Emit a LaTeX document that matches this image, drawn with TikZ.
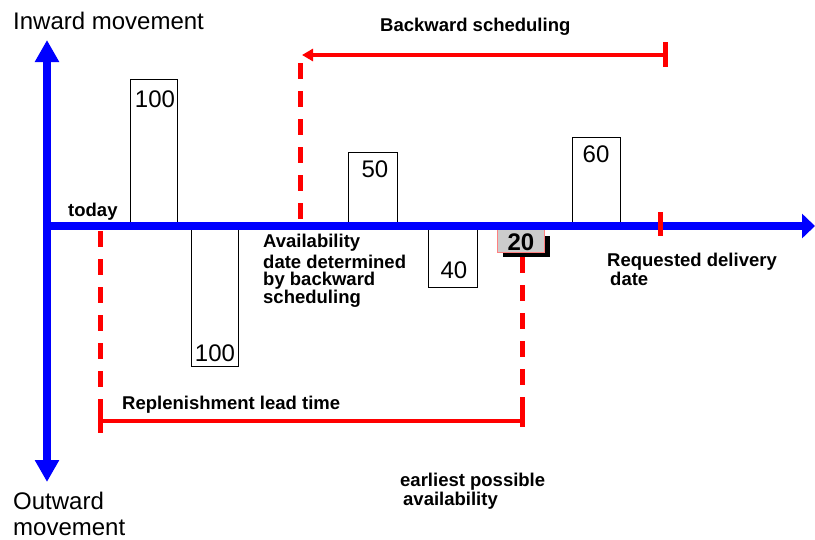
\documentclass[tikz,border=0pt]{standalone}
\usepackage{fontspec}
\setmainfont{Liberation Sans}
\usetikzlibrary{arrows.meta}
\begin{document}
\begin{tikzpicture}[x=1pt,y=-1pt,
  qbox/.style={draw=black, line width=0.8pt, fill=white},
  redline/.style={red, line width=4pt},
  redtick/.style={red, line width=5pt},
  reddash/.style={red, line width=5pt, dash pattern=on 16pt off 12pt},
  blueax/.style={blue, line width=8pt},
  lbl/.style={font=\fontsize{18.5}{17.5}\selectfont\bfseries, inner sep=0pt, anchor=base west, align=left},
  num/.style={font=\fontsize{24}{24}\selectfont, inner sep=0pt, anchor=base},
  big/.style={font=\fontsize{24}{26}\selectfont, inner sep=0pt, anchor=base west, align=left}]
\useasboundingbox (0,0) rectangle (815,539);
% quantity boxes
\draw[qbox] (130,79) rectangle (177,226);
\node[num] (q100in) at (155,107) {100};
\draw[qbox] (191,226) rectangle (238,366);
\node[num] (q100out) at (215,361) {100};
\draw[qbox] (348,152) rectangle (397,226);
\node[num] (q50) at (375,177) {50};
\draw[qbox] (428,226) rectangle (477,287);
\node[num] (q40) at (454,278) {40};
\draw[qbox] (572,137) rectangle (620,226);
\node[num] (q60) at (596,162) {60};
% 20 box with shadow
\fill[black] (503,236) rectangle (550,257);
\draw[draw=red!50, fill=black!20, line width=0.8pt] (497,226) rectangle (544,252);
\node[num, font=\fontsize{24}{24}\selectfont\bfseries] (q20) at (521,250) {20};
% coordinates
\coordinate (ytop) at (47,40);
\coordinate (ybot) at (47,482);
\coordinate (xstart) at (43,226);
\coordinate (xend) at (815,226);
\coordinate (todayA) at (100,231);
\coordinate (todayB) at (100,433);
\coordinate (availA) at (300,63);
\coordinate (availB) at (300,222);
\coordinate (earlyA) at (522,257);
\coordinate (earlyB) at (522,427);
\coordinate (earlyT) at (522,405);
\coordinate (leadL) at (100,421);
\coordinate (leadR) at (522,421);
\coordinate (bwR) at (665,55);
\coordinate (bwL) at (302,55);
\coordinate (bwT) at (665,42);
\coordinate (bwB) at (665,67);
\coordinate (reqT) at (660,212);
\coordinate (reqB) at (660,236);
\coordinate (ltT) at (100,411);
% axes
\draw[blueax, {Triangle[length=22pt,width=23pt]}-{Triangle[length=22pt,width=23pt]}] (ybot) -- (ytop);
\draw[blueax, -{Triangle[length=13pt,width=24pt]}] (xstart) -- (xend);
% red dashed lines
\draw[reddash] (todayA) -- (todayB);
\draw[reddash] (availA) -- (availB);
\draw[reddash] (earlyA) -- (earlyB);
\draw[redline] (leadL) -- (leadR);
\draw[redtick] (ltT) -- (todayB);
\draw[redtick] (earlyT) -- (earlyB);
\draw[redline, -{Triangle[length=11pt,width=12pt]}] (bwR) -- (bwL);
\draw[redtick] (bwT) -- (bwB);
\draw[redtick] (reqT) -- (reqB);
% labels (multi-line nodes: base = last line)
\node[big] (inward) at (13,29) {Inward movement};
\node[big] (outward) at (13,535) {Outward\\movement};
\node[lbl] (bwlabel) at (380,31) {Backward scheduling};
\node[lbl] (today) at (68,216) {today};
\node[lbl] (avail) at (263,303) {Availability\\[3pt]date determined\\by backward\\scheduling};
\node[lbl, font=\fontsize{18.5}{19}\selectfont\bfseries] (req) at (607,285) {Requested delivery\\\hspace{3pt}date};
\node[lbl] (leadlabel) at (122,409) {Replenishment lead time};
\node[lbl, font=\fontsize{18.5}{19}\selectfont\bfseries] (early) at (400,505) {earliest possible\\\hspace{3pt}availability};
\end{tikzpicture}
\end{document}
